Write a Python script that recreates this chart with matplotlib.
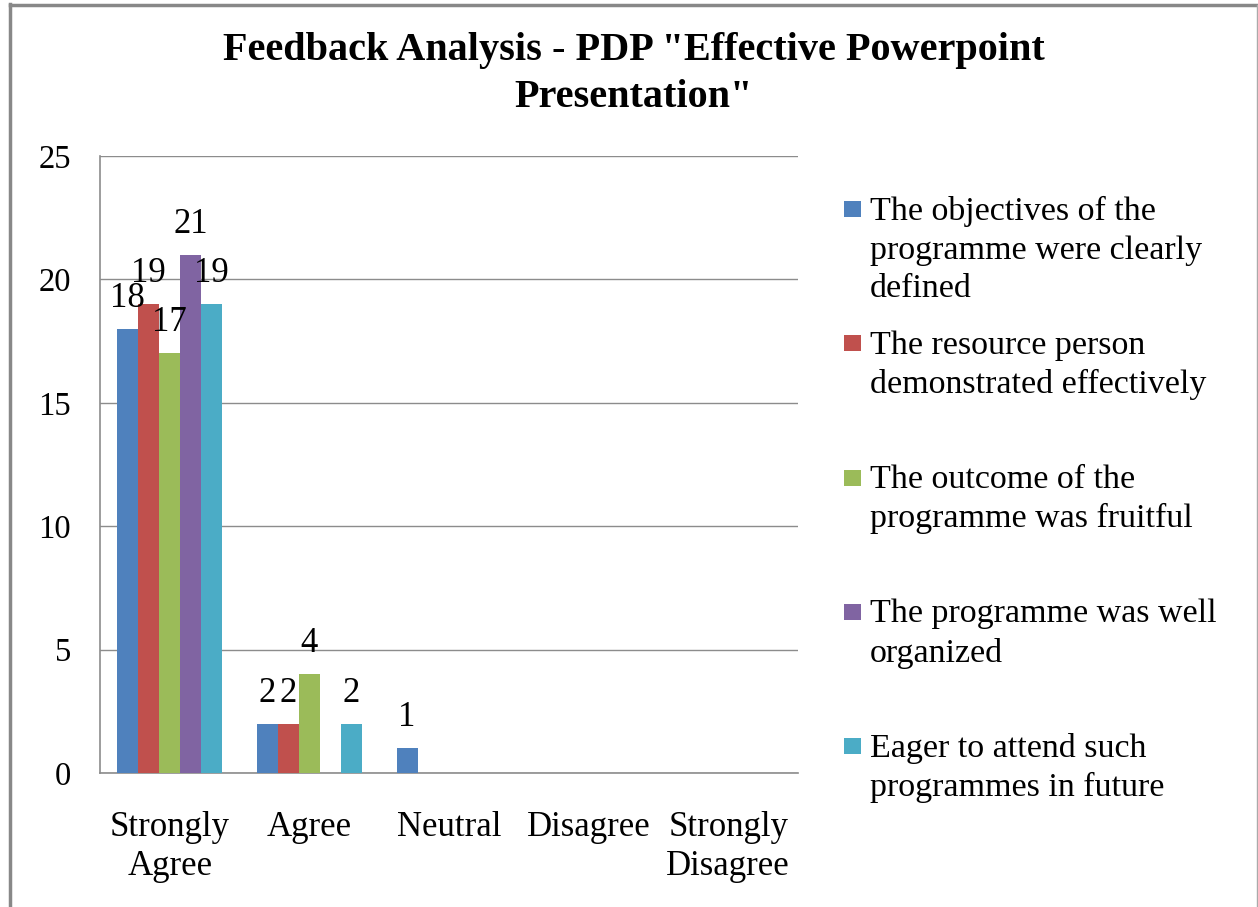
import textwrap
import numpy as np
import matplotlib
matplotlib.use("Agg")
import matplotlib.pyplot as plt
from matplotlib.patches import Rectangle

plt.rcParams['font.family'] = ['Liberation Serif', 'DejaVu Serif']

categories = ["Strongly\nAgree", "Agree", "Neutral", "Disagree", "Strongly\nDisagree"]
series_names = [
    "The objectives of the programme were clearly defined",
    "The resource person demonstrated effectively",
    "The outcome of the programme was fruitful",
    "The programme was well organized",
    "Eager to attend such programmes in future",
]
objectives = [18, 2, 1, 0, 0]
resource = [19, 2, 0, 0, 0]
outcome = [17, 4, 0, 0, 0]
organized = [21, 0, 0, 0, 0]
eager = [19, 2, 0, 0, 0]
series_values = [objectives, resource, outcome, organized, eager]
colors = ["#4F81BD", "#C0504D", "#9BBB59", "#8064A2", "#4BACC6"]
yticks = [0, 5, 10, 15, 20, 25]
title = 'Feedback Analysis - PDP "Effective Powerpoint\nPresentation"'

W, H = 1258, 907
fig = plt.figure(figsize=(W / 100, H / 100), dpi=100)
ax = fig.add_axes([100 / W, 1 - 773 / H, 698 / W, (773 - 156) / H])

x = np.arange(len(categories))
bw = 0.15
n = len(series_values)
for i, (vals, c) in enumerate(zip(series_values, colors)):
    pos = x + (i - (n - 1) / 2) * bw
    ax.bar(pos, vals, width=bw, color=c, zorder=3)
    for xp, v in zip(pos, vals):
        if v > 0:
            ax.annotate(str(v), (xp, v), xytext=(0, 22), textcoords="offset points",
                        ha="center", va="center", fontsize=25, zorder=4)

ax.set_xlim(-0.5, len(categories) - 0.5)
ax.set_ylim(0, 25)
ax.set_yticks(yticks)
ax.set_yticklabels([str(t) for t in yticks], fontsize=23.5)
ax.set_xticks(x)
ax.set_xticklabels(categories, fontsize=25, linespacing=1.27)
ax.tick_params(axis="both", length=0)
ax.tick_params(axis="y", pad=21)
ax.tick_params(axis="x", pad=27)
ax.yaxis.grid(True, color="#8C8C8C", linewidth=1, zorder=0)
for s in ["top", "right"]:
    ax.spines[s].set_visible(False)
for s in ["left", "bottom"]:
    ax.spines[s].set_color("#8C8C8C")
    ax.spines[s].set_linewidth(1.2)

fig.text(634 / W, 1 - 74 / H, title, ha="center", va="center", fontsize=29,
         fontweight="bold", linespacing=1.37)

# legend
for i, (name, c) in enumerate(zip(series_names, colors)):
    yc = 209 + 134.3 * i
    fig.patches.append(Rectangle((844 / W, 1 - (yc + 8) / H), 17 / W, 16 / H,
                                 transform=fig.transFigure, facecolor=c,
                                 edgecolor="none"))
    label = "\n".join(textwrap.wrap(name, 24))
    fig.text(870 / W, 1 - (yc - 13) / H, label, ha="left", va="top",
             fontsize=24.5, linespacing=1.34)

# outer frame
fig.add_artist(plt.Line2D([10 / W, 10 / W], [0, 1 - 4 / H], transform=fig.transFigure,
                          color="#888888", linewidth=2.5))
fig.add_artist(plt.Line2D([10 / W, 1257 / W], [1 - 5 / H, 1 - 5 / H], transform=fig.transFigure,
                          color="#888888", linewidth=2.5))
fig.add_artist(plt.Line2D([1256.5 / W, 1256.5 / W], [0, 1 - 5 / H], transform=fig.transFigure,
                          color="#AAAAAA", linewidth=1))

fig.savefig("out.png", dpi=100, facecolor="white")
